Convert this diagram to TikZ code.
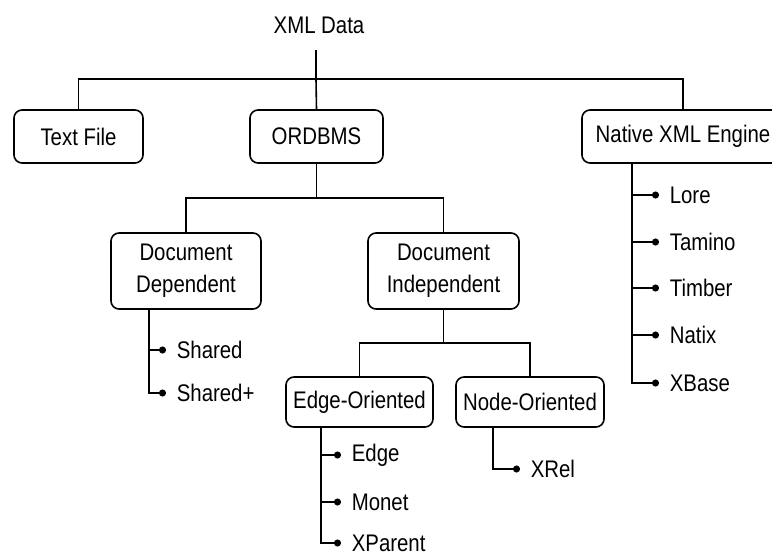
\documentclass[tikz,border=0pt]{standalone}
\usepackage{fontspec}
\setmainfont{Liberation Sans}[FakeStretch=0.85]
\usetikzlibrary{arrows.meta}
\begin{document}
\begin{tikzpicture}[x=1pt,y=-1pt,
  line width=1.6pt,
  every node/.style={font=\fontsize{24}{32}\selectfont},
  box/.style={draw, rounded corners=8pt, align=center, inner sep=0pt},
  leaf/.style={anchor=west, inner xsep=10pt, inner ysep=0pt},
  link/.style={-{Circle[length=7pt,width=7pt]}}]
\useasboundingbox (0,0) rectangle (772,555);

% root label and first level
\node[minimum height=50pt, inner sep=0pt] (xml) at (319,25) {XML Data};
\coordinate (j1) at (316,79);
\node[box, minimum width=129pt, minimum height=53pt] (txt) at (78.5,136.5) {Text File};
\node[box, minimum width=133pt, minimum height=53pt] (ord) at (316.5,136.5) {ORDBMS};
\node[box, minimum width=202pt, minimum height=53pt] (nat) at (683,136.5) {Native XML Engine};

\draw (316,50) -- (j1);
\draw (txt.north) |- (j1) -| (nat.north);
\draw (j1) -- (ord.north);

% ORDBMS branch
\coordinate (j2) at (316.5,198);
\node[box, minimum width=150pt, minimum height=76pt] (dd) at (186,271) {Document\\Dependent};
\node[box, minimum width=151pt, minimum height=76pt] (di) at (443.5,271) {Document\\Independent};
\draw (ord.south) -- (j2);
\draw (dd.north) |- (j2) -| (di.north);

% Document Independent branch
\coordinate (j3) at (443.5,343);
\node[box, minimum width=147pt, minimum height=50pt] (eo) at (359.5,402) {Edge-Oriented};
\node[box, minimum width=148pt, minimum height=50pt] (no) at (530,402) {Node-Oriented};
\draw (di.south) -- (j3);
\draw (eo.north) |- (j3) -| (no.north);

% leaves of Document Dependent
\coordinate (ddt) at (149,309);
\node[leaf] (shared) at (166,350) {Shared};
\node[leaf] (sharedp) at (166,393) {Shared+};
\draw[link] (ddt) |- (shared.west);
\draw[link] (ddt) |- (sharedp.west);

% leaves of Edge-Oriented
\coordinate (eot) at (321,427);
\node[leaf] (edge) at (341,455) {Edge};
\node[leaf] (monet) at (341,502) {Monet};
\node[leaf] (xparent) at (341,543) {XParent};
\draw[link] (eot) |- (edge.west);
\draw[link] (eot) |- (monet.west);
\draw[link] (eot) |- (xparent.west);

% leaf of Node-Oriented
\coordinate (not) at (493,427);
\node[leaf] (xrel) at (520,469) {XRel};
\draw[link] (not) |- (xrel.west);

% leaves of Native XML Engine
\coordinate (natt) at (632,163);
\node[leaf] (lore) at (659,195) {Lore};
\node[leaf] (tamino) at (659,242) {Tamino};
\node[leaf] (timber) at (659,288) {Timber};
\node[leaf] (natix) at (659,335) {Natix};
\node[leaf] (xbase) at (659,383) {XBase};
\foreach \n in {lore,tamino,timber,natix,xbase}
  \draw[link] (natt) |- (\n.west);
\end{tikzpicture}
\end{document}
